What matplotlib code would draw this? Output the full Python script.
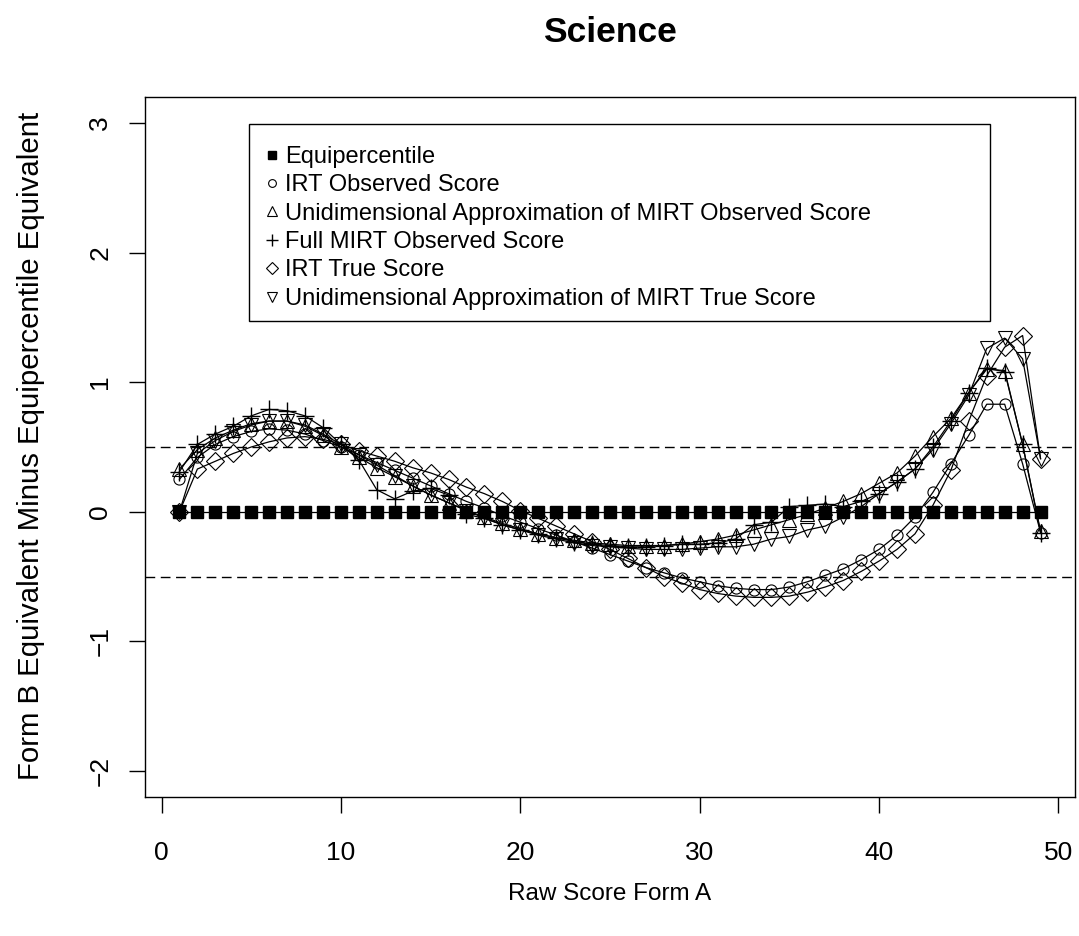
import numpy as np
import matplotlib.pyplot as plt
from matplotlib.patches import Rectangle

plt.rcParams['font.family'] = ['Liberation Sans', 'DejaVu Sans']

# raw score on form A
raw = np.arange(1, 50)

equi = [0.0] * 49

irt_obs = [0.25, 0.42, 0.52, 0.58, 0.62, 0.64, 0.63, 0.60, 0.55, 0.50,
           0.44, 0.38, 0.32, 0.26, 0.20, 0.14, 0.08, 0.03, -0.03, -0.08,
           -0.13, -0.18, -0.23, -0.28, -0.33, -0.38, -0.43, -0.47, -0.51, -0.54,
           -0.57, -0.59, -0.60, -0.60, -0.58, -0.54, -0.49, -0.44, -0.37, -0.29,
           -0.18, -0.04, 0.15, 0.37, 0.59, 0.83, 0.83, 0.37, -0.16]

ua_obs = [0.33, 0.48, 0.57, 0.63, 0.68, 0.70, 0.70, 0.66, 0.59, 0.50,
          0.42, 0.34, 0.27, 0.20, 0.13, 0.07, 0.01, -0.04, -0.09, -0.13,
          -0.17, -0.20, -0.22, -0.24, -0.25, -0.26, -0.26, -0.26, -0.25, -0.23,
          -0.21, -0.18, -0.14, -0.10, -0.06, -0.02, 0.03, 0.08, 0.14, 0.22,
          0.30, 0.43, 0.58, 0.72, 0.92, 1.10, 1.09, 0.52, -0.15]

full_obs = [0.31, 0.52, 0.60, 0.66, 0.74, 0.79, 0.78, 0.74, 0.65, 0.52,
            0.40, 0.17, 0.10, 0.16, 0.18, 0.13, -0.02, -0.05, -0.10, -0.14,
            -0.17, -0.20, -0.23, -0.25, -0.26, -0.27, -0.27, -0.26, -0.25, -0.25,
            -0.24, -0.21, -0.10, -0.08, 0.04, 0.05, 0.06, 0.04, 0.08, 0.14,
            0.23, 0.33, 0.50, 0.70, 0.92, 1.11, 1.08, 0.52, -0.16]

irt_true = [0.00, 0.33, 0.39, 0.45, 0.50, 0.54, 0.57, 0.58, 0.56, 0.52,
            0.47, 0.43, 0.39, 0.34, 0.30, 0.25, 0.19, 0.14, 0.08, 0.01,
            -0.05, -0.11, -0.17, -0.23, -0.29, -0.36, -0.43, -0.50, -0.55, -0.60,
            -0.63, -0.65, -0.66, -0.66, -0.65, -0.62, -0.58, -0.53, -0.46, -0.38,
            -0.29, -0.17, 0.05, 0.32, 0.70, 1.05, 1.27, 1.36, 0.41]

ua_true = [0.00, 0.45, 0.55, 0.62, 0.67, 0.70, 0.70, 0.67, 0.60, 0.52,
           0.44, 0.36, 0.28, 0.20, 0.13, 0.07, 0.01, -0.05, -0.10, -0.14,
           -0.18, -0.21, -0.24, -0.26, -0.27, -0.28, -0.29, -0.29, -0.29, -0.28,
           -0.27, -0.27, -0.25, -0.21, -0.19, -0.14, -0.11, -0.04, 0.04, 0.14,
           0.23, 0.33, 0.48, 0.68, 0.90, 1.26, 1.34, 1.18, 0.41]

labels = ["Equipercentile",
          "IRT Observed Score",
          "Unidimensional Approximation of MIRT Observed Score",
          "Full MIRT Observed Score",
          "IRT True Score",
          "Unidimensional Approximation of MIRT True Score"]

W, H = 1079, 936
fig = plt.figure(figsize=(W/100, H/100), dpi=100)
ax = fig.add_axes([145/W, 1-797/H, 930/W, 700/H])

lw = 0.9
ax.plot(raw, equi, '-s', color='black', lw=lw, ms=9, mfc='black', label=labels[0])
ax.plot(raw, irt_obs, '-o', color='black', lw=lw, ms=8, mfc='none', mew=0.8, label=labels[1])
ax.plot(raw, ua_obs, '-^', color='black', lw=lw, ms=10, mfc='none', mew=0.8, label=labels[2])
ax.plot(raw, full_obs, '-+', color='black', lw=lw, ms=13, mew=1.0, label=labels[3])
ax.plot(raw, irt_true, '-D', color='black', lw=lw, ms=9, mfc='none', mew=0.8, label=labels[4])
ax.plot(raw, ua_true, '-v', color='black', lw=lw, ms=10, mfc='none', mew=0.8, label=labels[5])

ax.axhline(0.5, color='black', lw=1, ls=(0, (7, 4)))
ax.axhline(-0.5, color='black', lw=1, ls=(0, (7, 4)))

ax.set_xlim(1 - 48*0.04, 49 + 48*0.04)
ax.set_ylim(-2 - 0.2, 3 + 0.2)
ax.set_xticks([0, 10, 20, 30, 40, 50])
ax.set_yticks([-2, -1, 0, 1, 2, 3])
ax.tick_params(direction='out', length=11.5, width=1, labelsize=19)
ax.tick_params(axis='x', pad=20)
ax.tick_params(axis='y', pad=12)
for t in ax.get_yticklabels():
    t.set_rotation(90)
    t.set_va('center')
for s in ax.spines.values():
    s.set_linewidth(1)

fig.text(610/W, 1-894/H, "Raw Score Form A", fontsize=17.5, ha='center', va='center')
fig.text(31/W, 1-446/H, "Form B Equivalent Minus Equipercentile Equivalent",
         fontsize=21.2, rotation=90, ha='center', va='center')
fig.text(610/W, 1-33/H, "Science", fontsize=25.5, fontweight='bold',
         ha='center', va='center')

# legend box drawn separately, like R's wider box
ax.add_patch(Rectangle((0.1118, 0.68), 0.797, 0.2814, transform=ax.transAxes,
                       facecolor='white', edgecolor='black', lw=1, zorder=4))
leg = ax.legend(loc='upper left', bbox_to_anchor=(0.129, 0.930), fontsize=17,
                frameon=False, markerscale=0.7,
                handlelength=0.6, handletextpad=0.25, labelspacing=0.27,
                borderpad=0, borderaxespad=0)
leg.set_zorder(5)
for h in leg.get_lines():
    h.set_linestyle('none')

fig.savefig("out.png", dpi=100)
